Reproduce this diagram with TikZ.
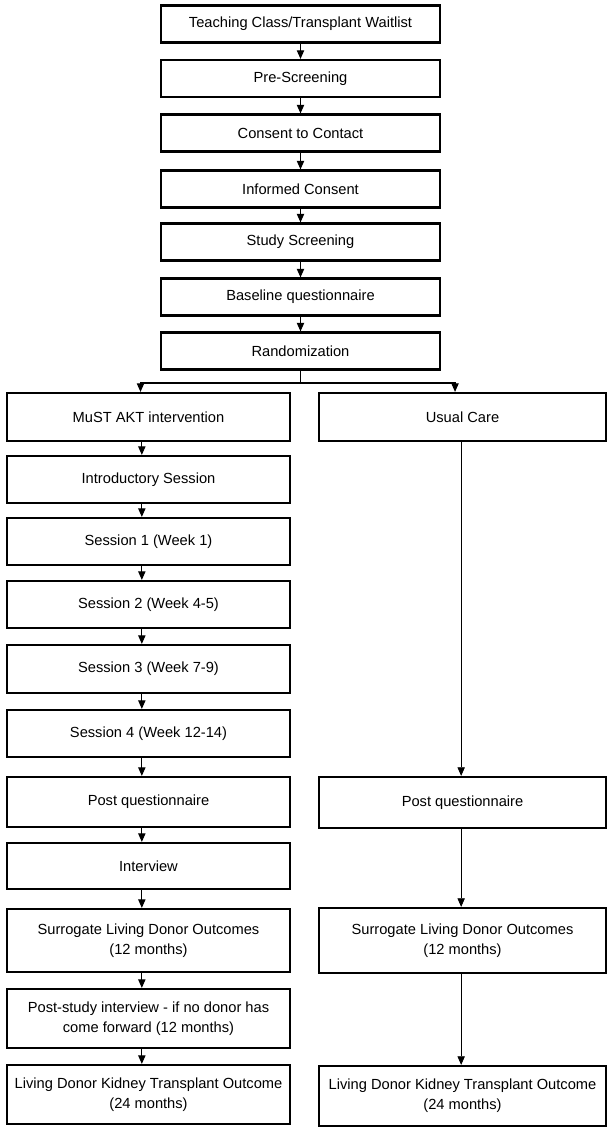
\documentclass[tikz,border=0pt]{standalone}
\usepackage{fontspec}
\setmainfont{Liberation Sans}
\usetikzlibrary{arrows.meta}

\begin{document}
\begin{tikzpicture}[x=0.75pt, y=-0.75pt,
    box/.style={draw, line width=1.6pt, align=center, inner sep=2pt, font=\fontsize{11}{15}\selectfont},
    topbox/.style={box, minimum width=209pt, minimum height=27.75pt},
    leftbox/.style={box, minimum width=212pt},
    rightbox/.style={box, minimum width=215pt},
    flow/.style={-{Triangle[width=5.5pt,length=6.5pt]}, line width=0.9pt}]
    \useasboundingbox (0,0) rectangle (608,1131);

    \node[topbox] (teach) at (300.5,24) {Teaching Class/Transplant Waitlist};
    \node[topbox] (pre) at (300.5,78.5) {Pre-Screening};
    \node[topbox] (contact) at (300.5,133) {Consent to Contact};
    \node[topbox] (informed) at (300.5,189) {Informed Consent};
    \node[topbox] (screen) at (300.5,242) {Study Screening};
    \node[topbox] (base) at (300.5,297) {Baseline questionnaire};
    \node[topbox] (rand) at (300.5,351) {Randomization};

    \node[leftbox, minimum height=36pt] (must) at (148.5,417) {MuST AKT intervention};
    \node[leftbox, minimum height=35.25pt] (intro) at (148.5,479.5) {Introductory Session};
    \node[leftbox, minimum height=35.25pt] (s1) at (148.5,541.5) {Session 1 (Week 1)};
    \node[leftbox, minimum height=35.25pt] (s2) at (148.5,604.5) {Session 2 (Week 4-5)};
    \node[leftbox, minimum height=36pt] (s3) at (148.5,669) {Session 3 (Week 7-9)};
    \node[leftbox, minimum height=35.25pt] (s4) at (148.5,733.5) {Session 4 (Week 12-14)};
    \node[leftbox, minimum height=37.5pt] (lpost) at (148.5,802) {Post questionnaire};
    \node[leftbox, minimum height=34.5pt] (interview) at (148.5,866) {Interview};
    \node[leftbox, minimum height=47.25pt] (lsurr) at (148.5,940.5) {Surrogate Living Donor Outcomes\\(12 months)};
    \node[leftbox, minimum height=44.25pt] (poststudy) at (148.5,1018.5) {Post-study interview - if no donor has\\come forward (12 months)};
    \node[leftbox, minimum height=44.25pt] (lliving) at (148.5,1094.5) {Living Donor Kidney Transplant Outcome\\(24 months)};

    \node[rightbox, minimum height=36pt] (usual) at (462.5,417) {Usual Care};
    \node[rightbox, minimum height=38.25pt] (rpost) at (462.5,802.5) {Post questionnaire};
    \node[rightbox, minimum height=48.75pt] (rsurr) at (462.5,940.5) {Surrogate Living Donor Outcomes\\(12 months)};
    \node[rightbox, minimum height=45pt] (rliving) at (462.5,1096) {Living Donor Kidney Transplant Outcome\\(24 months)};

    \foreach \a/\b in {teach/pre, pre/contact, contact/informed, informed/screen, screen/base, base/rand}
        \draw[flow] (\a) -- (\b);

    \coordinate (fork) at (300.5,383);
    \draw[line width=0.9pt] (rand.south) -- (fork);
    \draw[flow] (fork) -| ([xshift=-6pt]must.north);
    \draw[flow] (fork) -| ([xshift=-5.6pt]usual.north);

    \foreach \a/\b in {must/intro, intro/s1, s1/s2, s2/s3, s3/s4, s4/lpost, lpost/interview, interview/lsurr, lsurr/poststudy, poststudy/lliving}
        \draw[flow] ([xshift=-5pt]\a.south) -- ([xshift=-5pt]\b.north);

    \foreach \a/\b in {usual/rpost, rpost/rsurr, rsurr/rliving}
        \draw[flow, line width=0.6pt] ([xshift=-1pt]\a.south) -- ([xshift=-1pt]\b.north);
\end{tikzpicture}
\end{document}
